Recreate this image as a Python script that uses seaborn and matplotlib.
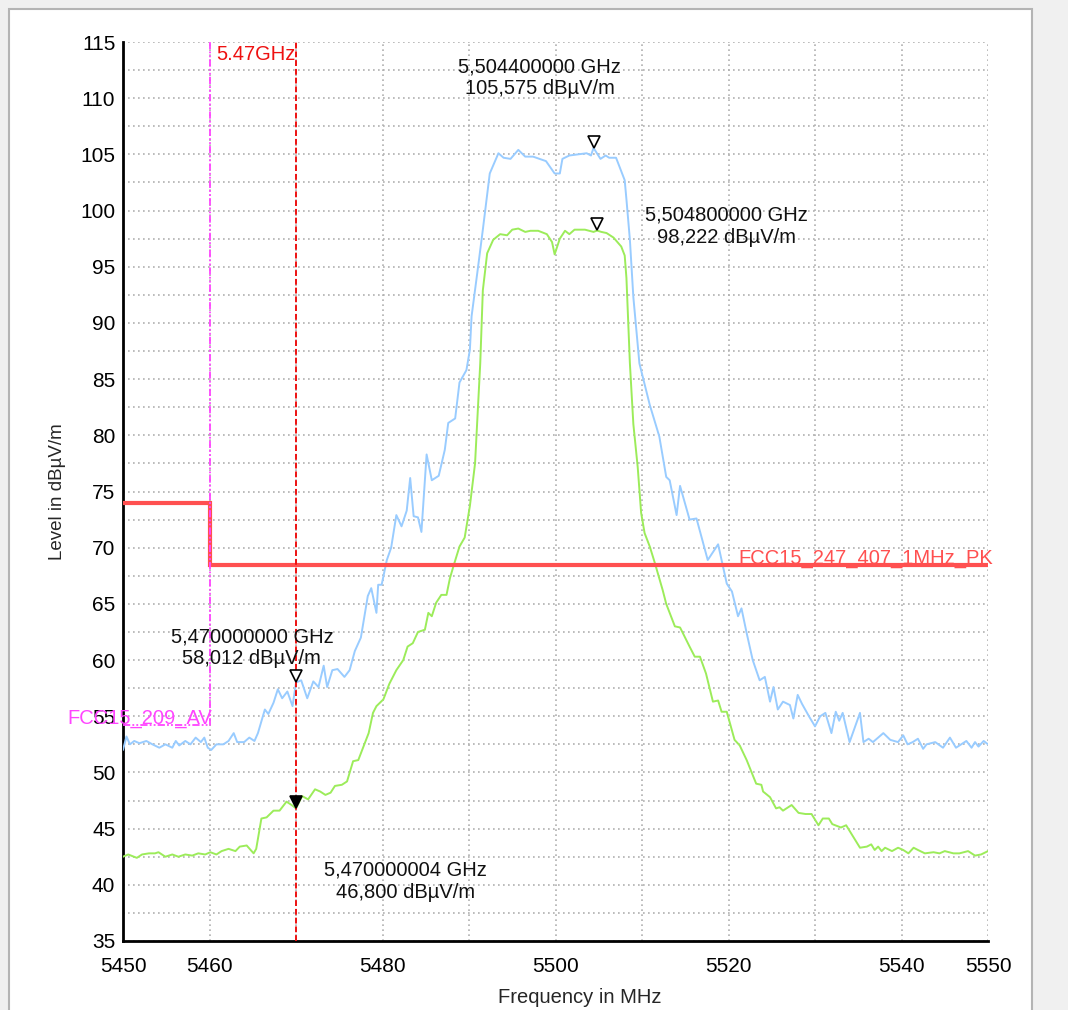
import numpy as np
import pandas as pd
import matplotlib
matplotlib.use("Agg")
import matplotlib.pyplot as plt
import matplotlib.transforms as mtransforms
from matplotlib.patches import Rectangle
import seaborn as sns

# --- 数据 ---
# Peak 曲线 (浅蓝)
PK_FREQ = [5450.0, 5450.4, 5450.8, 5451.3, 5451.9, 5452.7, 5453.4, 5454.2, 5454.9, 5455.7,
           5456.1, 5456.5, 5457.2, 5457.8, 5458.4, 5459.0, 5459.4, 5459.8, 5460.2, 5460.8,
           5461.6, 5462.2, 5462.8, 5463.2, 5464.0, 5464.6, 5465.2, 5465.6, 5466.4, 5466.8,
           5467.4, 5467.9, 5468.4, 5469.0, 5469.6, 5470.0, 5470.6, 5471.3, 5472.0, 5472.6,
           5473.2, 5473.6, 5474.2, 5474.8, 5475.6, 5476.2, 5476.8, 5477.5, 5478.3, 5478.7,
           5479.3, 5479.5, 5479.9, 5480.5, 5481.0, 5481.6, 5482.2, 5482.8, 5483.2, 5483.6,
           5484.1, 5484.5, 5485.1, 5485.7, 5486.5, 5487.2, 5487.6, 5488.4, 5488.9, 5489.7,
           5490.1, 5490.3, 5491.0, 5491.6, 5492.4, 5493.4, 5494.0, 5494.8, 5495.7, 5496.5,
           5497.4, 5498.9, 5499.9, 5500.5, 5500.8, 5501.6, 5503.6, 5504.1, 5504.4, 5505.2,
           5505.8, 5506.2, 5507.0, 5507.4, 5508.0, 5508.2, 5508.6, 5509.0, 5509.7, 5510.9,
           5512.0, 5512.8, 5513.2, 5514.0, 5514.4, 5515.5, 5516.3, 5517.6, 5518.8, 5519.8,
           5520.4, 5521.1, 5521.5, 5522.1, 5522.8, 5523.6, 5524.2, 5524.8, 5525.2, 5525.7,
           5526.3, 5527.1, 5527.5, 5528.0, 5528.5, 5529.3, 5530.0, 5530.6, 5531.2, 5531.9,
           5532.4, 5532.8, 5533.2, 5534.0, 5535.2, 5535.6, 5536.2, 5536.7, 5537.9, 5538.7,
           5539.6, 5540.2, 5540.7, 5541.3, 5541.9, 5542.5, 5542.9, 5543.9, 5544.8, 5545.6,
           5546.3, 5547.5, 5548.1, 5548.5, 5548.9, 5549.5, 5550.0]
PK_LEVEL = [52.0, 53.2, 52.5, 52.8, 52.6, 52.8, 52.5, 52.2, 52.5, 52.2,
            52.8, 52.4, 52.8, 52.5, 53.1, 52.7, 53.1, 52.2, 52.0, 52.5,
            52.5, 52.8, 53.5, 52.7, 52.7, 53.1, 52.8, 53.5, 55.6, 55.2,
            56.2, 57.4, 56.6, 57.2, 55.9, 58.0, 58.2, 56.6, 58.1, 57.6,
            59.5, 57.6, 59.1, 59.2, 58.5, 59.1, 60.8, 62.0, 65.7, 66.4,
            64.2, 66.7, 66.7, 68.9, 70.0, 72.9, 71.9, 73.3, 76.2, 72.8,
            72.7, 71.4, 78.3, 76.0, 76.4, 78.7, 81.1, 81.5, 84.7, 85.8,
            87.6, 90.6, 94.7, 98.3, 103.3, 105.1, 104.7, 104.6, 105.4, 104.8,
            104.8, 104.4, 103.3, 103.3, 104.6, 104.9, 105.1, 104.9, 105.575, 104.6,
            104.9, 104.7, 104.7, 103.9, 102.7, 101.0, 97.4, 92.3, 86.4, 82.7,
            79.9, 76.3, 76.0, 72.9, 75.5, 72.5, 72.6, 68.9, 70.3, 66.8,
            66.1, 63.9, 64.6, 62.4, 60.0, 58.2, 58.5, 56.3, 57.6, 55.6,
            56.3, 56.0, 54.8, 56.9, 56.1, 55.0, 54.1, 55.0, 55.3, 53.5,
            55.4, 54.6, 55.3, 52.7, 55.3, 52.7, 53.0, 52.7, 53.5, 52.9,
            52.7, 53.3, 52.5, 52.7, 53.0, 52.1, 52.5, 52.7, 52.2, 53.1,
            52.2, 52.8, 52.2, 52.7, 52.3, 52.8, 52.5]

# Average 曲线 (浅绿)
AV_FREQ = [5450.0, 5450.6, 5451.6, 5452.2, 5453.0, 5453.7, 5454.1, 5454.9, 5455.7, 5456.4,
           5457.2, 5458.0, 5458.7, 5459.5, 5460.1, 5460.8, 5461.4, 5462.2, 5463.0, 5463.5,
           5464.3, 5465.1, 5465.4, 5466.0, 5466.6, 5467.4, 5468.1, 5468.9, 5469.5, 5470.0,
           5470.7, 5471.4, 5472.2, 5472.8, 5473.4, 5474.0, 5474.5, 5475.3, 5475.9, 5476.6,
           5477.2, 5477.8, 5478.4, 5478.9, 5479.3, 5480.1, 5480.8, 5481.6, 5482.4, 5482.9,
           5483.5, 5484.1, 5484.9, 5485.3, 5485.7, 5486.2, 5486.8, 5487.4, 5487.8, 5488.3,
           5488.9, 5489.5, 5490.1, 5490.7, 5491.3, 5491.6, 5492.1, 5492.8, 5493.6, 5494.4,
           5495.0, 5495.7, 5496.5, 5497.1, 5498.0, 5499.0, 5499.6, 5499.9, 5500.5, 5501.1,
           5501.6, 5502.2, 5503.4, 5503.9, 5504.4, 5504.8, 5505.3, 5505.9, 5506.7, 5507.6,
           5508.0, 5508.2, 5508.6, 5509.0, 5509.5, 5509.9, 5510.3, 5510.9, 5511.5, 5512.4,
           5512.8, 5513.8, 5514.4, 5515.5, 5516.1, 5516.7, 5517.4, 5518.2, 5518.8, 5519.2,
           5519.8, 5520.7, 5521.3, 5522.1, 5523.2, 5523.8, 5524.0, 5524.8, 5525.5, 5525.9,
           5526.3, 5527.3, 5528.1, 5528.9, 5529.6, 5530.4, 5530.9, 5531.6, 5532.0, 5533.0,
           5533.6, 5534.4, 5535.2, 5536.0, 5536.5, 5536.9, 5537.3, 5537.7, 5538.1, 5538.9,
           5539.6, 5540.2, 5540.8, 5541.4, 5541.9, 5542.7, 5543.7, 5544.4, 5545.0, 5546.0,
           5546.7, 5547.7, 5548.5, 5549.2, 5550.0]
AV_LEVEL = [42.5, 42.7, 42.4, 42.7, 42.8, 42.8, 42.9, 42.5, 42.7, 42.5,
            42.7, 42.6, 42.8, 42.7, 42.9, 42.7, 43.0, 43.2, 43.0, 43.4,
            43.5, 42.8, 43.2, 45.9, 46.0, 46.6, 46.6, 47.4, 47.1, 46.8,
            47.9, 47.6, 48.5, 48.3, 48.0, 48.2, 48.8, 48.9, 49.2, 51.0,
            51.1, 52.3, 53.5, 55.3, 55.9, 56.5, 57.9, 59.1, 60.0, 61.2,
            61.5, 62.5, 62.7, 64.2, 63.9, 65.1, 65.8, 65.8, 67.3, 68.6,
            70.1, 70.9, 73.7, 77.5, 86.4, 92.9, 96.2, 97.4, 97.9, 97.8,
            98.3, 98.4, 98.1, 98.2, 98.2, 97.9, 97.2, 96.1, 97.5, 98.2,
            97.9, 98.3, 98.3, 98.2, 98.1, 98.222, 98.1, 98.0, 97.6, 96.8,
            96.0, 94.0, 86.4, 81.0, 77.2, 73.1, 71.3, 70.1, 68.6, 66.2,
            65.0, 63.0, 62.9, 61.2, 60.3, 60.3, 58.8, 56.3, 56.4, 55.4,
            55.4, 52.9, 52.4, 51.1, 49.0, 48.9, 48.3, 47.8, 46.8, 46.9,
            46.6, 47.1, 46.4, 46.3, 46.3, 45.3, 45.9, 45.9, 45.4, 45.1,
            45.3, 44.3, 43.3, 43.4, 43.6, 43.1, 43.4, 43.0, 43.3, 43.0,
            43.3, 43.1, 42.8, 43.3, 43.1, 42.8, 42.9, 42.8, 43.0, 42.8,
            42.8, 43.0, 42.6, 42.7, 43.0]

# 限值线
LIMIT_PK_EDGES = [5450, 5460, 5550]
LIMIT_PK_LEVELS = [74.0, 68.5]
LIMIT_AV_FREQ = [5450, 5460, 5460]
LIMIT_AV_LEVEL = [54.2, 54.2, 115]
BAND_EDGE = 5470

# 标记点 (频率, 电平, 文本, 文本位置)
MARKER_FREQ = [5504.4, 5504.8, 5470.0, 5470.0]
MARKER_LEVEL = [105.575, 98.222, 58.012, 46.800]
MARKER_FILLED = [False, False, False, True]
MARKER_TEXT = ["5,504400000 GHz\n105,575 dBµV/m",
               "5,504800000 GHz\n98,222 dBµV/m",
               "5,470000000 GHz\n58,012 dBµV/m",
               "5,470000004 GHz\n46,800 dBµV/m"]
MARKER_TEXT_POS = [(5498.2, 111.8), (5519.8, 98.6), (5464.9, 61.1), (5482.7, 40.3)]

X_TICKS = list(range(5450, 5551, 10))
X_TICK_LABELS = ["5450", "5460", "", "5480", "", "5500", "", "5520", "", "5540", "5550"]

BLUE = "#99ccff"
GREEN = "#9cec5a"
LIMIT_RED = "#ff5050"
MAGENTA = "#ff44ff"
RED = "#ee1111"

sns.set_style("white")
plt.rcParams["font.family"] = ["Liberation Sans", "DejaVu Sans"]

fig = plt.figure(figsize=(10.68, 10.10), dpi=100)
fig.patch.set_facecolor("#f0f0f0")
fig.add_artist(Rectangle((9 / 1068, -0.02), 1023 / 1068, 1 - 9 / 1010 + 0.02,
                         transform=fig.transFigure, facecolor="white",
                         edgecolor="#b4b4b4", linewidth=1.5, zorder=-10))
ax = fig.add_axes([123 / 1068, 1 - 941 / 1010, 865 / 1068, 899 / 1010])
ax.patch.set_visible(False)

df_pk = pd.DataFrame({"freq": PK_FREQ, "level": PK_LEVEL})
df_av = pd.DataFrame({"freq": AV_FREQ, "level": AV_LEVEL})
sns.lineplot(data=df_pk, x="freq", y="level", ax=ax, color=BLUE, linewidth=1.4,
             estimator=None, sort=False, zorder=3)
sns.lineplot(data=df_av, x="freq", y="level", ax=ax, color=GREEN, linewidth=1.4,
             estimator=None, sort=False, zorder=3)

# 限值线
ax.stairs(LIMIT_PK_LEVELS, LIMIT_PK_EDGES, color=LIMIT_RED, linewidth=3, zorder=4,
          baseline=None)
ax.plot(LIMIT_AV_FREQ, LIMIT_AV_LEVEL, color=MAGENTA, linewidth=1.3,
        dashes=(4, 1.2, 1, 1.2, 1, 1.2), zorder=4)
ax.axvline(BAND_EDGE, color=RED, linewidth=1.4, dashes=(3, 1.5), zorder=5)

ax.text(LIMIT_PK_EDGES[1] + 61.1, LIMIT_PK_LEVELS[1] + 0.1, "FCC15_247_407_1MHz_PK",
        color=LIMIT_RED, fontsize=14.5, ha="left", va="baseline", clip_on=False, zorder=6)
ax.text(LIMIT_AV_FREQ[0] - 6.4, LIMIT_AV_LEVEL[0] + 0.1, "FCC15_209_AV",
        color=MAGENTA, fontsize=14.5, ha="left", va="baseline", clip_on=False, zorder=6)
ax.text(LIMIT_AV_FREQ[1] + 0.8, 113.4, "5.47GHz", color=RED, fontsize=14.5,
        ha="left", va="baseline", zorder=6)

# 标记 (三角形尖端指向数据点)
offset = mtransforms.ScaledTranslation(0, 4.5 / 72, fig.dpi_scale_trans)
for f, lv, filled, txt, pos in zip(MARKER_FREQ, MARKER_LEVEL, MARKER_FILLED,
                                   MARKER_TEXT, MARKER_TEXT_POS):
    ax.plot([f], [lv], marker="v", markersize=9, markeredgecolor="black",
            markeredgewidth=1.2, markerfacecolor="black" if filled else "white",
            linestyle="none", transform=ax.transData + offset, zorder=7)
    ax.text(pos[0], pos[1], txt, fontsize=14.5, ha="center", va="center",
            linespacing=1.2, color="#111111", zorder=8)

ax.set_xlim(5450, 5550)
ax.set_ylim(35, 115)
ax.set_xticks(X_TICKS)
ax.set_xticklabels(X_TICK_LABELS)
ax.set_yticks(np.arange(35, 116, 5))
ax.set_yticks(np.arange(37.5, 115, 5), minor=True)

ax.grid(which="major", axis="both", color="#b0b0b0", linestyle=(0, (1, 2)), linewidth=1.2)
ax.grid(which="minor", axis="y", color="#b0b0b0", linestyle=(0, (1, 2)), linewidth=1.2)
ax.set_axisbelow(True)

sns.despine(ax=ax)
for side in ["left", "bottom"]:
    ax.spines[side].set_linewidth(2)
    ax.spines[side].set_color("black")

ax.tick_params(axis="both", which="both", direction="inout", length=11, width=1.5,
               colors="black", labelsize=15)
ax.tick_params(axis="y", which="both", pad=0)
ax.tick_params(axis="x", which="both", pad=6)

ax.set_xlabel("Frequency in MHz", fontsize=14.5)
ax.set_ylabel("Level in dBµV/m", fontsize=13.5)
ax.xaxis.set_label_coords(0.528, -0.052)
ax.yaxis.set_label_coords(-0.066, 0.5)

fig.savefig("out.png", dpi=100, facecolor=fig.get_facecolor())
